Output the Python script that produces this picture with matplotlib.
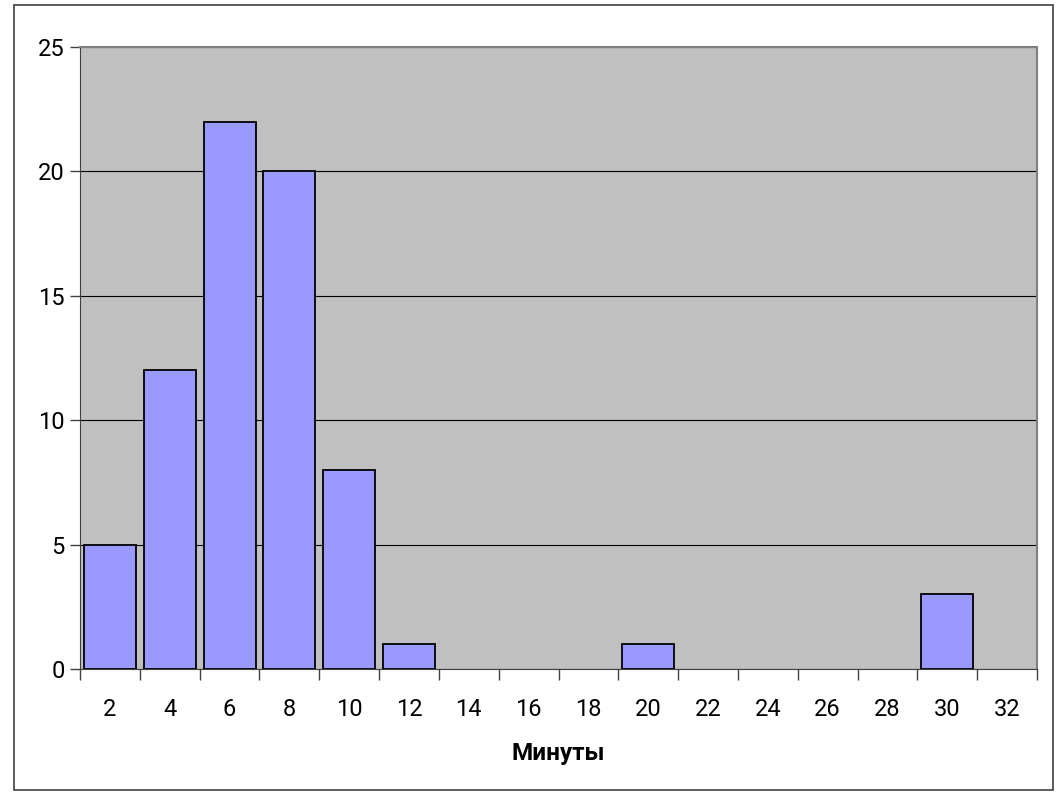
import matplotlib
matplotlib.use("Agg")
import numpy as np
import matplotlib.pyplot as plt
from matplotlib.patches import Rectangle

plt.rcParams["font.family"] = ["Roboto", "DejaVu Sans"]

minutes = [2, 4, 6, 8, 10, 12, 14, 16, 18, 20, 22, 24, 26, 28, 30, 32]
counts = [5, 12, 22, 20, 8, 1, 0, 0, 0, 1, 0, 0, 0, 0, 3, 0]
y_ticks = [0, 5, 10, 15, 20, 25]

W, H = 1058, 796
fig = plt.figure(figsize=(W / 100, H / 100), dpi=100)
fig.patch.set_facecolor("white")
fig.add_artist(Rectangle((14 / W, 1 - 790 / H), (1053 - 14) / W, (790 - 5) / H,
                         transform=fig.transFigure, fill=False,
                         edgecolor="#404040", linewidth=1.2))

ax = fig.add_axes([80 / W, 1 - 669 / H, (1037 - 80) / W, (669 - 47) / H])
ax.set_facecolor("#c0c0c0")

x = np.arange(len(minutes))
edges = ["black" if c > 0 else "none" for c in counts]
ax.bar(x, counts, width=0.87, color="#9999ff", edgecolor=edges, linewidth=1.3, zorder=3)

ax.set_xlim(-0.5, len(minutes) - 0.5)
ax.set_ylim(0, 25)
ax.set_yticks(y_ticks)
ax.yaxis.grid(True, color="black", linewidth=0.8, zorder=1)
ax.set_axisbelow(True)

ax.set_xticks(np.arange(len(minutes) + 1) - 0.5)
ax.set_xticklabels([])
ax.set_xticks(x, minor=True)
ax.set_xticklabels([str(m) for m in minutes], minor=True, fontsize=17)
ax.tick_params(axis="x", which="major", length=8, width=1, color="#404040")
ax.tick_params(axis="x", which="minor", length=0, pad=21)
ax.tick_params(axis="y", length=7, width=1, color="#404040", labelsize=17, pad=4)

for s in ["top", "right"]:
    ax.spines[s].set_color("#808080")
    ax.spines[s].set_linewidth(1.5)
ax.spines["left"].set_color("#404040")
ax.spines["bottom"].set_color("#404040")

ax.set_xlabel("Минуты", fontsize=17.5, fontweight="bold", labelpad=15)

fig.savefig("out.png", dpi=100)
